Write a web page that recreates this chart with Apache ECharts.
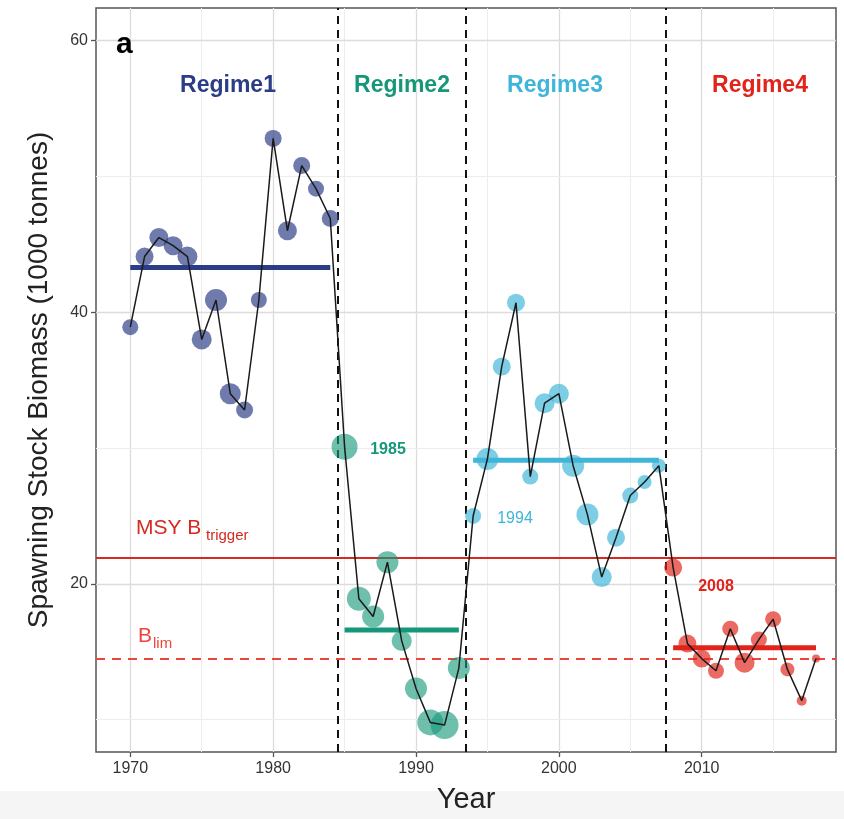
<!DOCTYPE html>
<html>
<head>
<meta charset="utf-8">
<script src="https://cdn.jsdelivr.net/npm/echarts@6/dist/echarts.min.js"></script>
<style>
html,body{margin:0;padding:0;background:#fff;}
#chart{width:844px;height:819px;}
</style>
</head>
<body>
<div id="chart"></div>
<script>
// ---- data ----
const years1 = [1970,1971,1972,1973,1974,1975,1976,1977,1978,1979,1980,1981,1982,1983,1984];
const ssb1   = [38.9,44.1,45.5,44.9,44.1,38.0,40.9,34.0,32.8,40.9,52.8,46.0,50.8,49.1,46.9];
const size1  = [16,18,19,19,20,20,22,21,17,16,17,19,17,16,17];

const years2 = [1985,1986,1987,1988,1989,1990,1991,1992,1993];
const ssb2   = [30.1,18.9,17.6,21.6,15.8,12.3,9.8,9.6,13.8];
const size2  = [26,24,22,22,20,22,26,28,22];

const years3 = [1994,1995,1996,1997,1998,1999,2000,2001,2002,2003,2004,2005,2006,2007];
const ssb3   = [25.0,29.2,36.0,40.7,27.9,33.3,34.0,28.7,25.1,20.5,23.4,26.5,27.5,28.7];
const size3  = [16,22,18,18,16,20,20,22,22,20,18,16,14,14];

const years4 = [2008,2009,2010,2011,2012,2013,2014,2015,2016,2017,2018];
const ssb4   = [21.2,15.6,14.5,13.6,16.7,14.2,15.9,17.4,13.7,11.4,14.5];
const size4  = [18,18,18,16,16,20,16,16,14,10,8];

const regimeNames = ['Regime1','Regime2','Regime3','Regime4'];
const regimeMeans = [43.3,16.6,29.1,15.3];
const regimeBreaks = [1984.5,1993.5,2007.5];
const msyBtrigger = 21.9;
const bLim = 14.5;

const xTicks = [1970,1980,1990,2000,2010];
const xMinor = [1975,1985,1995,2005,2015];
const yTicks = [20,40,60];
const yMinor = [10,30,50];

// ---- styling ----
const regimeColors = ['#2b3d86','#17977a','#3fb5d8','#e2231a'];
const regimeOpacity = [0.68,0.62,0.68,0.68];

const regimes = [
  {years:years1, ssb:ssb1, size:size1},
  {years:years2, ssb:ssb2, size:size2},
  {years:years3, ssb:ssb3, size:size3},
  {years:years4, ssb:ssb4, size:size4}
];

const series = [];

// gridlines
series.push({
  type:'line', data:[], z:0, silent:true,
  markLine:{
    z:0,
    symbol:'none', silent:true, animation:false, label:{show:false},
    data:[
      ...xTicks.map(v=>({xAxis:v, lineStyle:{color:'#dcdcdc', width:1.3, type:'solid'}})),
      ...xMinor.map(v=>({xAxis:v, lineStyle:{color:'#ededed', width:1, type:'solid'}})),
      ...yTicks.map(v=>({yAxis:v, lineStyle:{color:'#dcdcdc', width:1.3, type:'solid'}})),
      ...yMinor.map(v=>({yAxis:v, lineStyle:{color:'#ededed', width:1, type:'solid'}}))
    ]
  }
});

// reference lines + regime breaks
series.push({
  type:'line', data:[], z:1, silent:true,
  markLine:{
    z:1,
    symbol:'none', silent:true, animation:false, label:{show:false},
    data:[
      {yAxis:msyBtrigger, lineStyle:{color:'#d42a20', width:2, type:'solid'}},
      {yAxis:bLim, lineStyle:{color:'#f0443a', width:2, type:[9,7]}},
      ...regimeBreaks.map(v=>({xAxis:v, lineStyle:{color:'#111', width:2, type:[8,6]}}))
    ]
  }
});

// points
regimes.forEach((r,i)=>{
  series.push({
    type:'scatter', z:3,
    data:r.years.map((y,k)=>[y,r.ssb[k]]),
    symbolSize:(val,params)=>r.size[params.dataIndex],
    itemStyle:{color:regimeColors[i], opacity:regimeOpacity[i]}
  });
});

// regime means
regimes.forEach((r,i)=>{
  series.push({
    type:'line', z:4, symbol:'none', silent:true,
    data:[[r.years[0],regimeMeans[i]],[r.years[r.years.length-1],regimeMeans[i]]],
    lineStyle:{color:regimeColors[i], width:5, cap:'butt'}
  });
});

// connecting line
const allData = [];
regimes.forEach(r=>r.years.forEach((y,k)=>allData.push([y,r.ssb[k]])));
series.push({
  type:'line', z:5, symbol:'none', silent:true, data:allData,
  lineStyle:{color:'#1a1a1a', width:1.5}
});

const chart = echarts.init(document.getElementById('chart'), null, {renderer:'canvas'});
const font = 'Liberation Sans, Arial, sans-serif';

function txt(x, y, text, fnt, fill, align){
  return {type:'text', x:x, y:y, z:100, zlevel:0, silent:true,
    style:{text:text, font:fnt, fill:fill, align:align||'left', verticalAlign:'middle'}};
}

chart.setOption({
  animation:false,
  backgroundColor:'#ffffff',
  grid:{left:96, right:8, top:8, bottom:66, show:true, borderColor:'#555', borderWidth:1.5, backgroundColor:'transparent'},
  xAxis:{
    type:'value', min:1967.6, max:2019.4,
    name:'Year', nameLocation:'middle', nameGap:33,
    nameTextStyle:{fontSize:29, color:'#222', fontFamily:font},
    axisLine:{show:false},
    axisTick:{show:true, customValues:xTicks, length:5, lineStyle:{color:'#555', width:1.3}},
    axisLabel:{customValues:xTicks, formatter:v=>String(v), fontSize:16, color:'#333', margin:9, fontFamily:font},
    splitLine:{show:false}
  },
  yAxis:{
    type:'value', min:7.62, max:62.4,
    name:'Spawning Stock Biomass (1000 tonnes)', nameLocation:'middle', nameGap:43,
    nameTextStyle:{fontSize:28, color:'#222', fontFamily:font},
    axisLine:{show:false},
    axisTick:{show:true, customValues:yTicks, length:5, lineStyle:{color:'#555', width:1.3}},
    axisLabel:{customValues:yTicks, formatter:v=>String(v), fontSize:16, color:'#333', margin:8, fontFamily:font},
    splitLine:{show:false}
  },
  graphic:[
    {type:'rect', shape:{x:0,y:791,width:844,height:28}, style:{fill:'#f5f5f5'}, z:-10, silent:true},
    txt(116, 45, 'a', 'bold 30px '+font, '#000'),
    txt(228, 86, regimeNames[0], 'bold 23px '+font, regimeColors[0], 'center'),
    txt(402, 86, regimeNames[1], 'bold 23px '+font, regimeColors[1], 'center'),
    txt(555, 86, regimeNames[2], 'bold 23px '+font, regimeColors[2], 'center'),
    txt(760, 86, regimeNames[3], 'bold 23px '+font, regimeColors[3], 'center'),
    txt(388, 450, '1985', 'bold 16px '+font, regimeColors[1], 'center'),
    txt(515, 519, '1994', '16px '+font, regimeColors[2], 'center'),
    txt(716, 587, '2008', 'bold 16px '+font, regimeColors[3], 'center'),
    txt(136, 528, 'MSY B', '21px '+font, '#d42a20'),
    txt(206, 536, 'trigger', '15px '+font, '#d42a20'),
    txt(138, 636, 'B', '21px '+font, '#f0443a'),
    txt(153, 644, 'lim', '15px '+font, '#f0443a')
  ],
  series:series
});
</script>
</body>
</html>
